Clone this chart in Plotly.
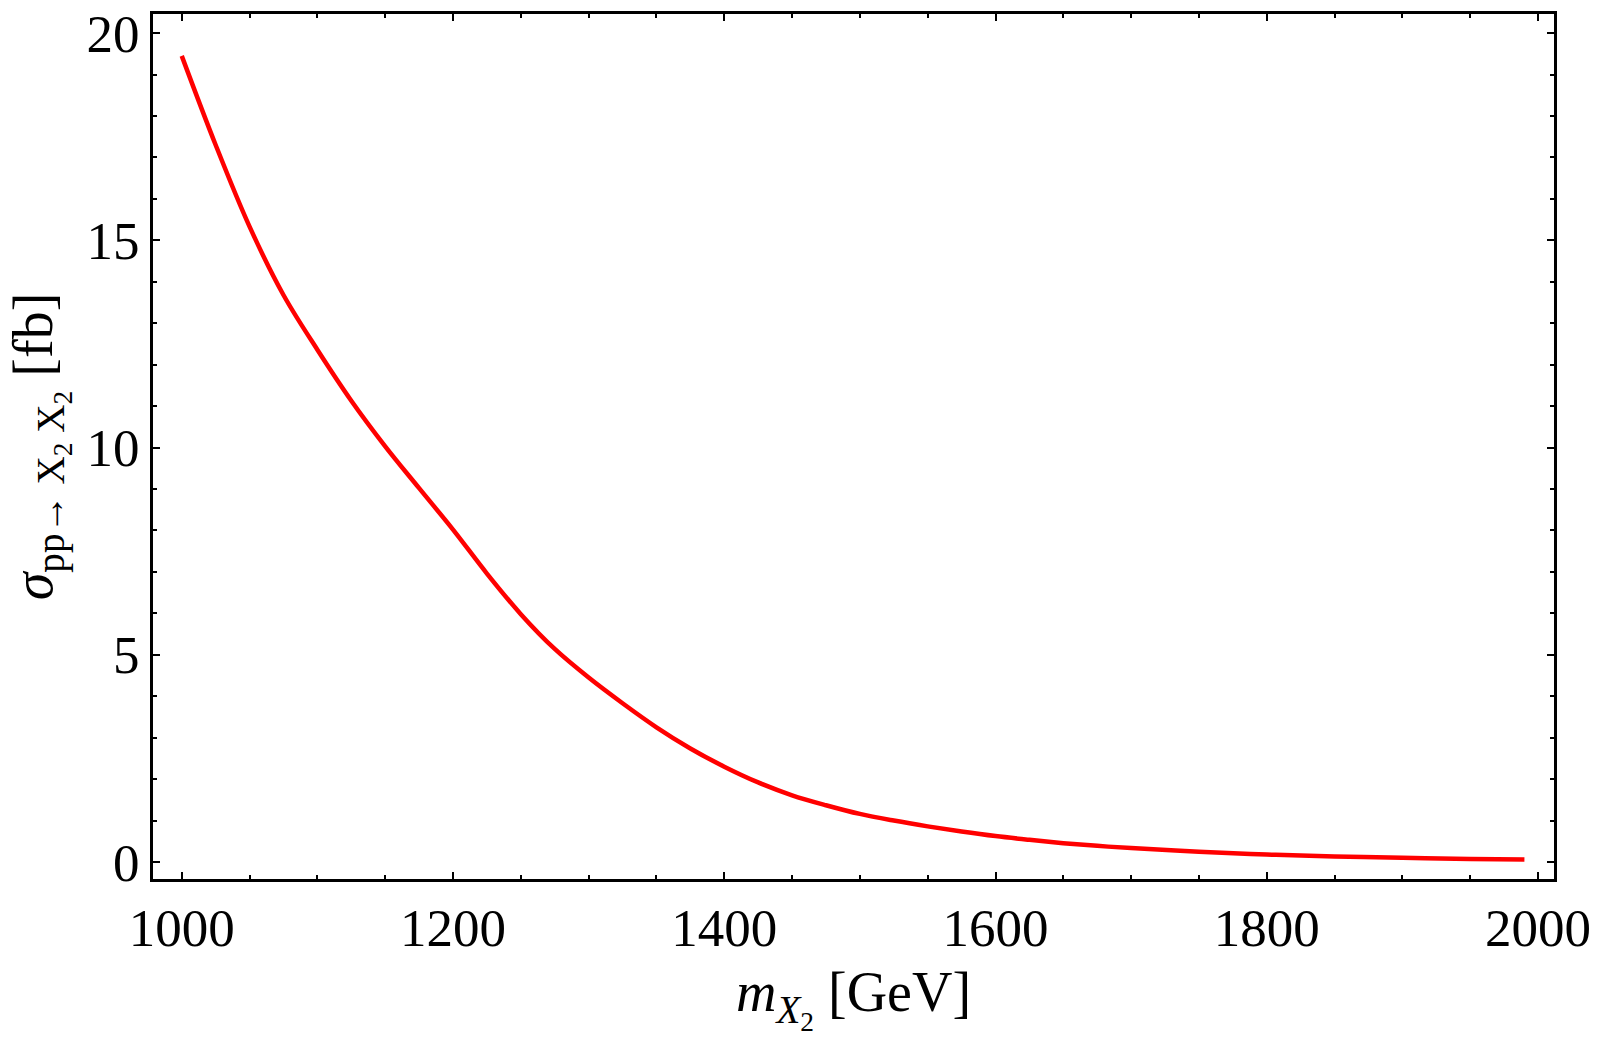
import plotly.graph_objects as go

# Mass values (GeV) and cross-section (fb)
m_x2 = [1000, 1025, 1050, 1075, 1100, 1125, 1150, 1175, 1200, 1225, 1250,
        1275, 1300, 1325, 1350, 1375, 1400, 1425, 1450, 1475, 1500, 1525,
        1550, 1575, 1600, 1625, 1650, 1675, 1700, 1750, 1800, 1850, 1900,
        1950, 1990]
sigma_fb = [19.45, 17.30, 15.33, 13.68, 12.36, 11.13, 10.03, 9.02, 8.02, 6.96, 5.98,
            5.14, 4.45, 3.83, 3.25, 2.74, 2.30, 1.92, 1.61, 1.37, 1.16, 1.00,
            0.86, 0.735, 0.625, 0.535, 0.455, 0.39, 0.335, 0.25, 0.18, 0.135, 0.10,
            0.075, 0.06]

x_ticks = [1000, 1200, 1400, 1600, 1800, 2000]
y_ticks = [0, 5, 10, 15, 20]

FONT = "Liberation Serif"

fig = go.Figure()
fig.add_trace(go.Scatter(
    x=m_x2, y=sigma_fb, mode="lines",
    line=dict(color="#ff0000", width=4.5, shape="spline", smoothing=1.0),
    showlegend=False, hoverinfo="skip",
))

axis_common = dict(
    showgrid=False, zeroline=False,
    showline=True, linecolor="black", linewidth=3, mirror="allticks",
    ticks="inside", ticklen=7, tickwidth=2, tickcolor="black",
    tickfont=dict(family=FONT, size=53, color="black"),
    automargin=False,
)

fig.update_layout(
    width=1600, height=1037,
    paper_bgcolor="white", plot_bgcolor="white",
    margin=dict(l=153, r=46, t=14, b=158),
    font=dict(family=FONT, color="black"),
    xaxis=dict(
        **axis_common,
        range=[978.8, 2011.8],
        tickvals=x_ticks, ticktext=[str(v) for v in x_ticks],
        minor=dict(dtick=50, ticks="inside", ticklen=4, tickwidth=1.5, tickcolor="black"),
        title=dict(text="<i>m</i><sub><i>X</i><sub>2</sub></sub> [GeV]",
                   font=dict(family=FONT, size=56, color="black"), standoff=24),
    ),
    yaxis=dict(
        **axis_common,
        range=[-0.41, 20.46],
        tickvals=y_ticks, ticktext=[str(v) for v in y_ticks],
        minor=dict(dtick=1, ticks="inside", ticklen=4, tickwidth=1.5, tickcolor="black"),
        title=dict(text="<i>σ</i><sub>pp→ X<sub>2</sub> X<sub>2</sub></sub> [fb]",
                   font=dict(family=FONT, size=56, color="black"), standoff=16),
    ),
)

fig.write_html(
    "out.html",
    config={"displayModeBar": False},
    post_script="document.body.style.margin='0';document.body.style.overflow='hidden';",
)
